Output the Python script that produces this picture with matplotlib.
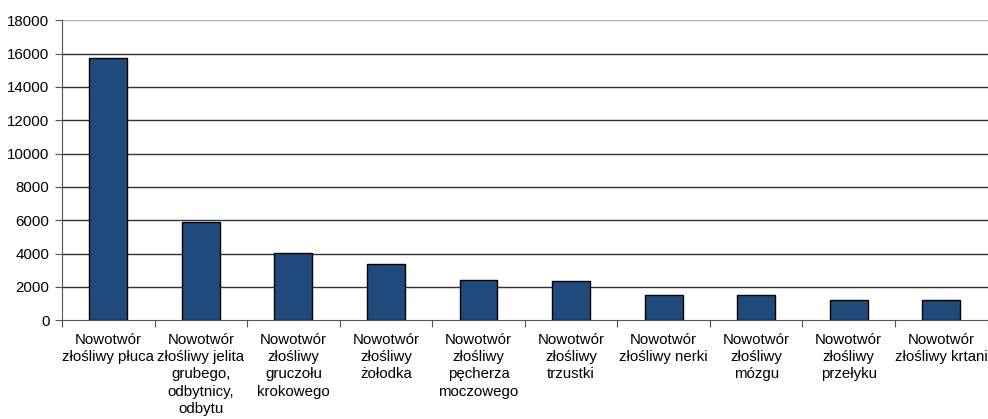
import numpy as np
import matplotlib
matplotlib.use("Agg")
import matplotlib.pyplot as plt

plt.rcParams['font.family'] = ['Liberation Sans', 'DejaVu Sans']

categories = [
    "Nowotwór\nzłośliwy płuca",
    "Nowotwór\nzłośliwy jelita\ngrubego,\nodbytnicy,\nodbytu",
    "Nowotwór\nzłośliwy\ngruczołu\nkrokowego",
    "Nowotwór\nzłośliwy\nżołodka",
    "Nowotwór\nzłośliwy\npęcherza\nmoczowego",
    "Nowotwór\nzłośliwy\ntrzustki",
    "Nowotwór\nzłośliwy nerki",
    "Nowotwór\nzłośliwy\nmózgu",
    "Nowotwór\nzłośliwy\nprzełyku",
    "Nowotwór\nzłośliwy krtani",
]
values = [15720, 5920, 4050, 3380, 2420, 2330, 1520, 1490, 1240, 1240]
yticks = [0, 2000, 4000, 6000, 8000, 10000, 12000, 14000, 16000, 18000]

fig = plt.figure(figsize=(9.88, 4.19), dpi=100)
ax = fig.add_axes([62 / 988, 1 - 320.3 / 419, 925.5 / 988, 300 / 419])

x = np.arange(len(values))
ax.bar(x, values, width=0.41, color='#214a7c', edgecolor='black', linewidth=1, zorder=3)

ax.set_xlim(-0.5, len(values) - 0.5)
ax.set_ylim(0, 18000)
ax.set_yticks(yticks)
ax.set_yticklabels([str(v) for v in yticks], fontsize=10.8)

for v in yticks[1:-1]:
    ax.axhline(v, color='#333333', linewidth=1, zorder=1)
ax.axhline(18000, color='#b0b0b0', linewidth=1, zorder=1)

ax.set_xticks(np.arange(len(values) + 1) - 0.5, minor=False)
ax.set_xticklabels([])
ax.set_xticks(x, minor=True)
ax.set_xticklabels(categories, minor=True, fontsize=10.8, linespacing=1.3, va='top')
ax.tick_params(axis='x', which='minor', length=0, pad=9)
ax.tick_params(axis='x', which='major', length=5, color='#555555', direction='out')
ax.tick_params(axis='y', length=5, color='#555555', pad=4)

for s in ['top', 'right']:
    ax.spines[s].set_visible(False)
ax.spines['left'].set_color('#555555')
ax.spines['bottom'].set_color('#555555')

fig.savefig('out.png', dpi=100)
